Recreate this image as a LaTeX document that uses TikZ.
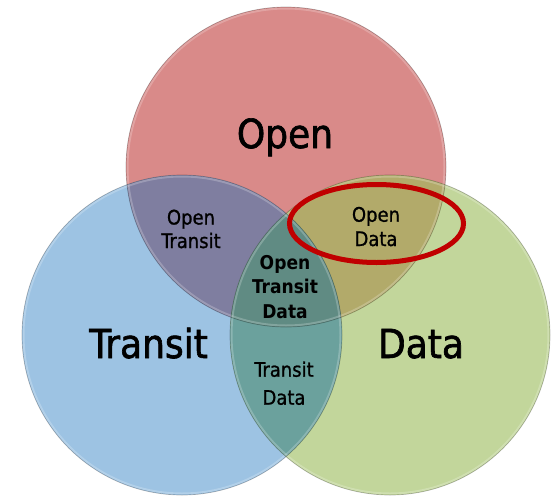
\documentclass[tikz,border=0pt]{standalone}
\usepackage{fontspec}
\setmainfont{DejaVu Sans Condensed}
\newfontfamily\heavybig[FakeBold=1.6]{DejaVu Sans Condensed}
\newfontfamily\heavysmall[FakeBold=1.0]{DejaVu Sans Condensed}
\definecolor{openc}{RGB}{217,138,137}
\definecolor{transc}{RGB}{157,195,227}
\definecolor{datac}{RGB}{194,214,155}
\definecolor{otc}{RGB}{127,126,160}
\definecolor{odc}{RGB}{178,170,106}
\definecolor{tdc}{RGB}{107,161,157}
\definecolor{otdc}{RGB}{96,139,131}
\definecolor{hlred}{RGB}{192,0,0}
\newcommand\vlines[2]{\vtop{\baselineskip=#1\relax\halign{\hfil##\hfil\cr#2\crcr}}}
\tikzset{
  bigl/.style={inner sep=0pt, anchor=base, font=\heavybig\fontsize{40}{48}\selectfont, text=black},
  smalll/.style={inner sep=0pt, anchor=base, font=\heavysmall\fontsize{20}{24}\selectfont, text=black},
  boldl/.style={inner sep=0pt, anchor=base, font=\fontsize{19}{24}\selectfont\bfseries, text=black},
  rim/.style={draw=black, draw opacity=0.25, line width=0.7pt},
  glow/.style={draw=white, draw opacity=0.22, line width=2pt}
}
\begin{document}
\begin{tikzpicture}[x=1pt,y=-1pt]
\useasboundingbox (0,0) rectangle (557,498);
\fill[white] (0,0) rectangle (557,498);
% base circles
\fill[openc] (286,167) circle[radius=160pt];
\fill[transc] (182,335) circle[radius=160pt];
\fill[datac] (390,335) circle[radius=160pt];
% pairwise overlaps
\begin{scope}
  \clip (286,167) circle[radius=160pt];
  \fill[otc] (182,335) circle[radius=160pt];
  \fill[odc] (390,335) circle[radius=160pt];
\end{scope}
\begin{scope}
  \clip (182,335) circle[radius=160pt];
  \fill[tdc] (390,335) circle[radius=160pt];
\end{scope}
% triple overlap
\begin{scope}
  \clip (286,167) circle[radius=160pt];
  \clip (182,335) circle[radius=160pt];
  \fill[otdc] (390,335) circle[radius=160pt];
\end{scope}
% soft rims
\draw[glow] (286,167) circle[radius=158.5pt];
\draw[glow] (182,335) circle[radius=158.5pt];
\draw[glow] (390,335) circle[radius=158.5pt];
\draw[rim] (286,167) circle[radius=160pt];
\draw[rim] (182,335) circle[radius=160pt];
\draw[rim] (390,335) circle[radius=160pt];
% labels
\node[bigl] (open) at (285,148) {Open};
\node[bigl] (transit) at (148.5,358) {Transit};
\node[bigl] (data) at (421,358) {Data};
\node[smalll] (ot) at (191,224.5) {\vlines{23.5pt}{Open\cr Transit}};
\node[smalll] (od) at (376,221.7) {\vlines{24.3pt}{Open\cr Data}};
\node[boldl] (otd) at (285,269.3) {\vlines{24.5pt}{Open\cr Transit\cr Data}};
\node[smalll] (td) at (284,376.7) {\vlines{28pt}{Transit\cr Data}};
% highlight ellipse
\draw[hlred, line width=5pt] (376.5,223.5) ellipse[x radius=87pt, y radius=39pt];
\end{tikzpicture}
\end{document}
